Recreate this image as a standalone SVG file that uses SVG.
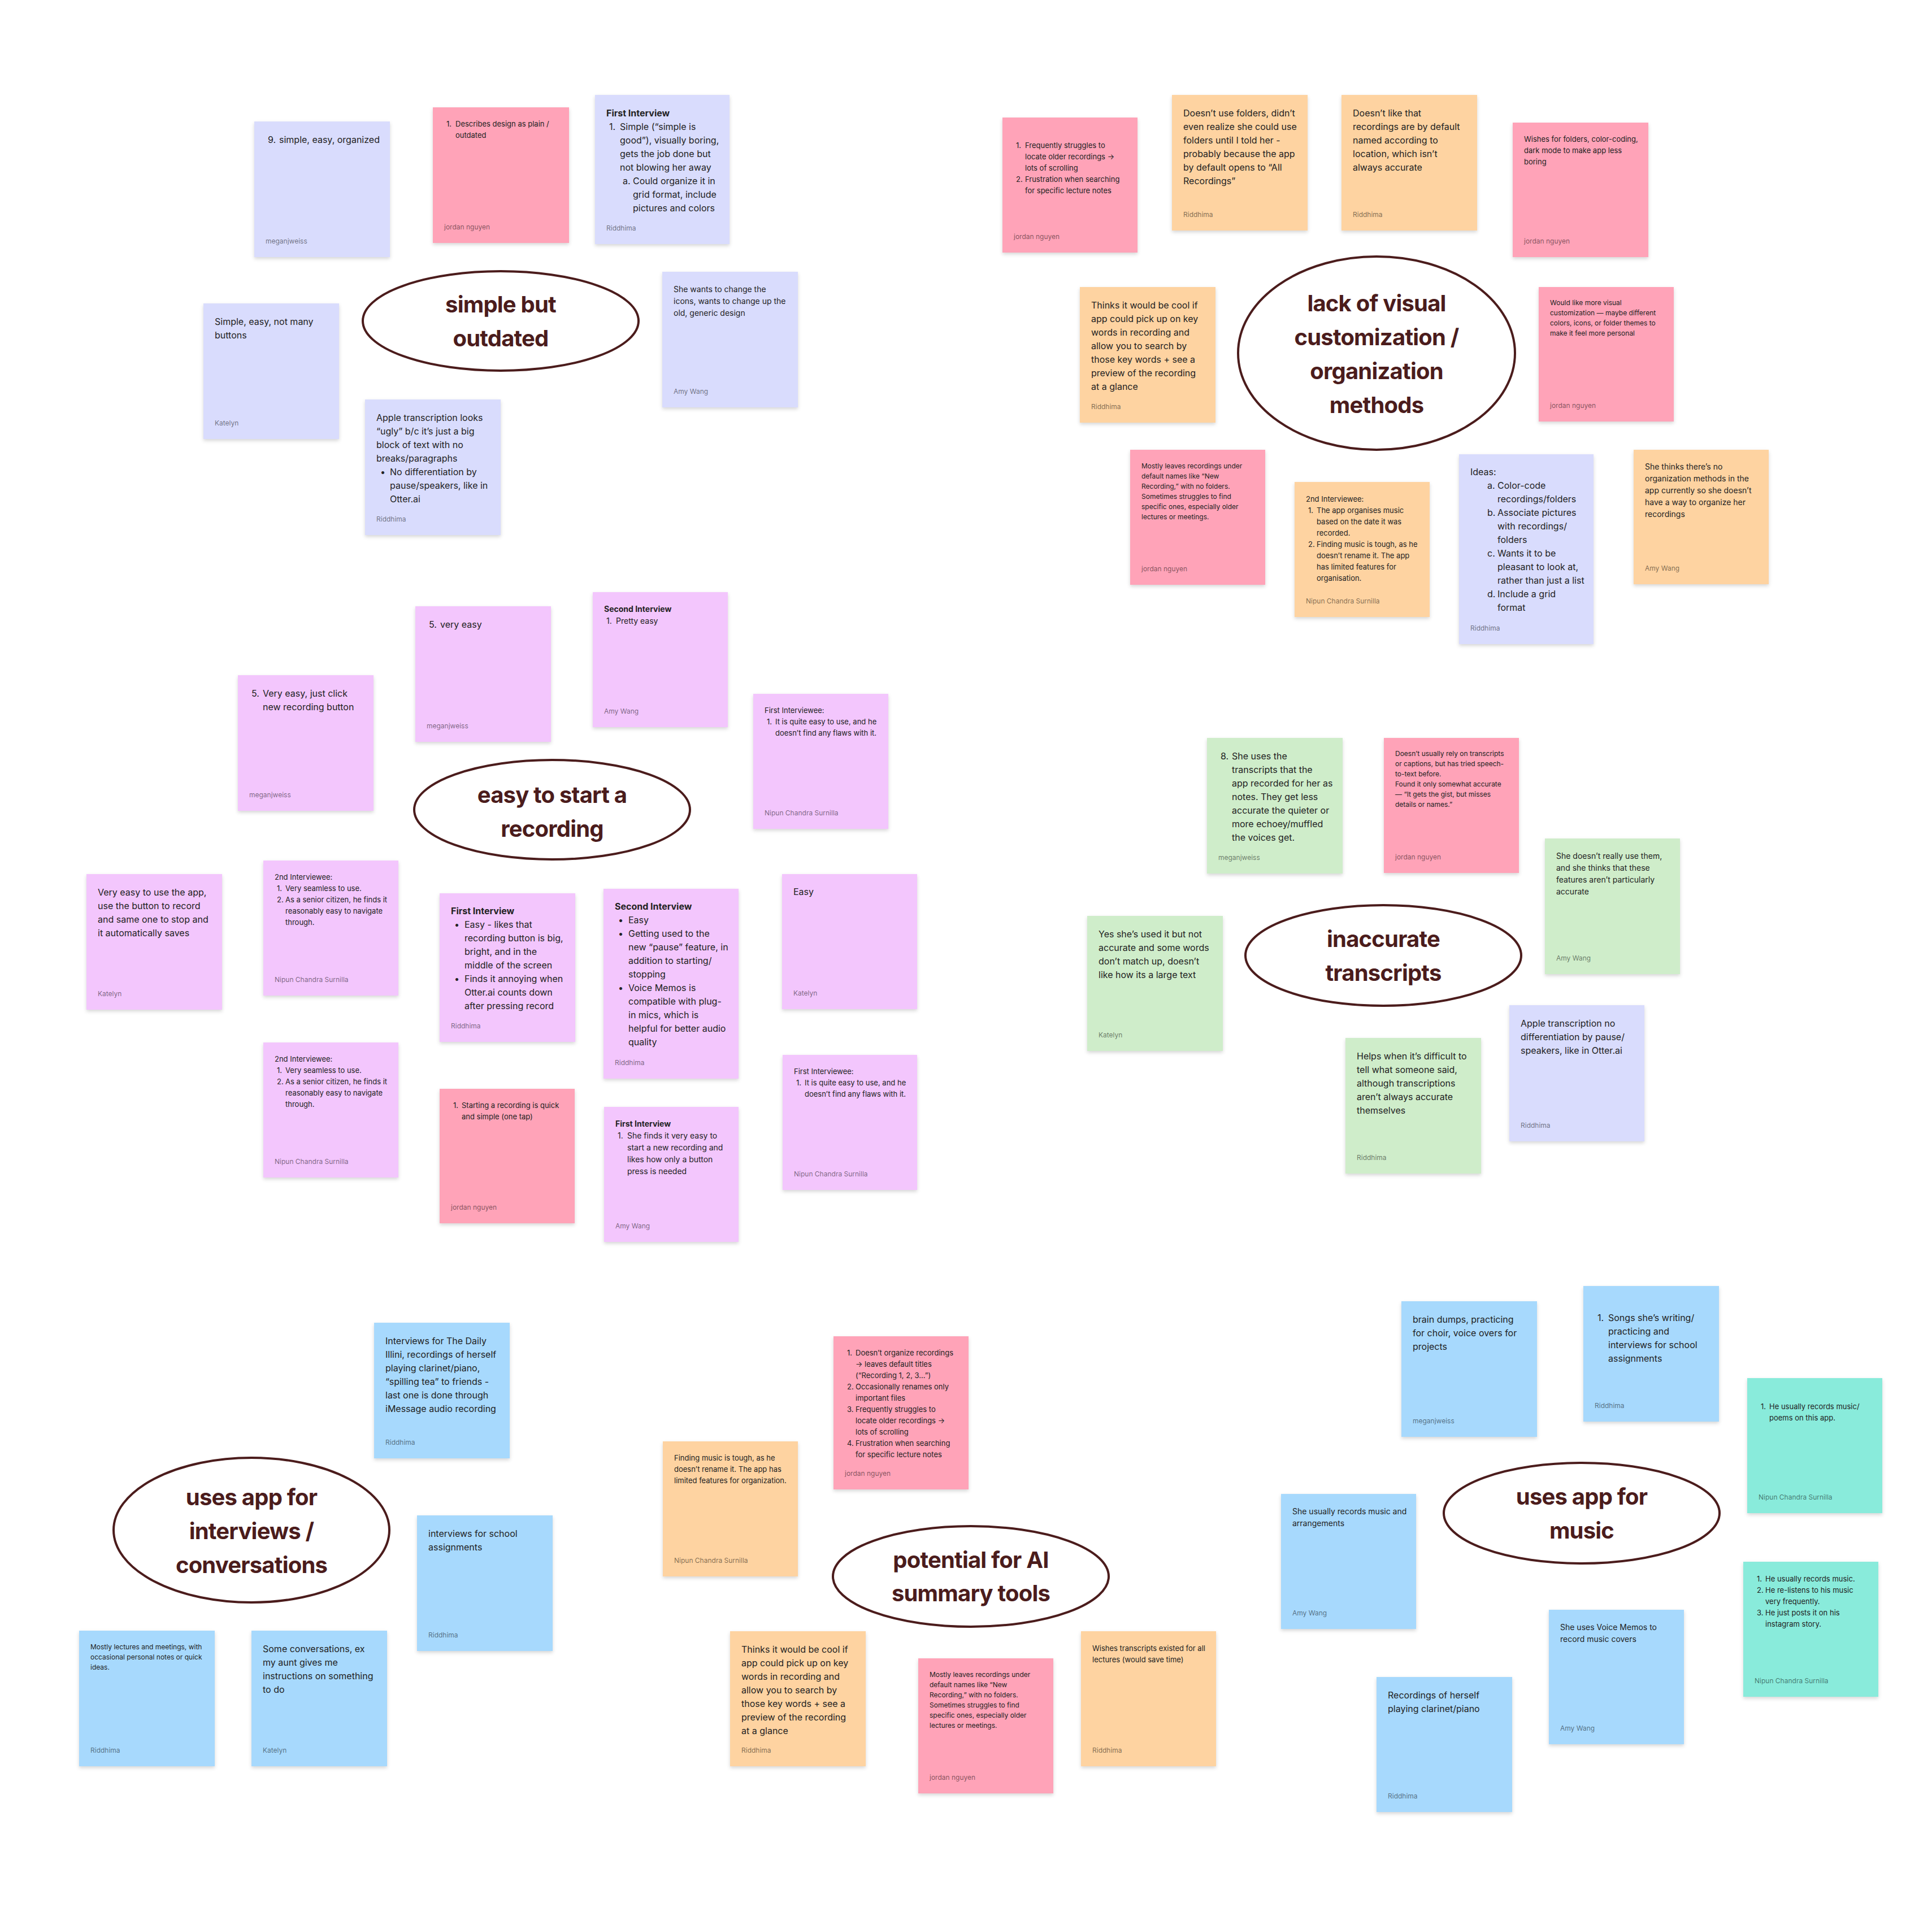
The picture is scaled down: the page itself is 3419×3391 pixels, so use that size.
<svg xmlns="http://www.w3.org/2000/svg" width="3419" height="3391" viewBox="0 0 3419 3391">
<defs>
<filter id="sh" x="-10%" y="-10%" width="120%" height="125%"><feDropShadow dx="0" dy="3" stdDeviation="3" flood-color="#000" flood-opacity="0.16"/></filter>
<style>
.lav{fill:#D9DCFD}.pink{fill:#FFA3B8}.org{fill:#FED3A1}.lil{fill:#F3C6FD}.grn{fill:#CFEDCA}.blu{fill:#A7D9FD}.tea{fill:#89EBDB}
.n{filter:url(#sh)}
text{font-family:Inter,'Liberation Sans',sans-serif}
.t{fill:#222}
.s16{font-size:16px}.s14{font-size:14px}.s13{font-size:13px}.s12{font-size:12px}
.b{font-weight:700}
.au{font-size:12px;fill:#000;fill-opacity:.5}
.bu{text-anchor:middle}
.el{fill:#fff;stroke:#4B1C1C;stroke-width:4}
.ttl{font-size:40px;font-weight:700;fill:#4B1C1C;text-anchor:middle;letter-spacing:-0.8px}
</style>
</defs>
<rect width="3419" height="3391" fill="#fff"/>
<g id="connectors"/>

<!-- simple but outdated cluster -->
<g id="A1"><rect class="n lav" x="450" y="215" width="240" height="240"/>
<text class="t s16"><tspan x="474" y="253">9.</tspan><tspan x="494" y="253">simple, easy, organized</tspan></text>
<text class="au" x="470" y="431">meganjweiss</text></g>

<g id="A2"><rect class="n pink" x="766" y="190" width="241" height="240"/>
<text class="t s13"><tspan x="790" y="224">1.</tspan><tspan x="806" y="224">Describes design as plain /</tspan><tspan x="806" y="244">outdated</tspan></text>
<text class="au" x="786" y="406">jordan nguyen</text></g>

<g id="A3"><rect class="n lav" x="1053" y="168" width="238" height="264"/>
<text class="t s16"><tspan class="b" x="1073" y="206">First Interview</tspan><tspan x="1078" y="230">1.</tspan><tspan x="1097" y="230">Simple (“simple is</tspan><tspan x="1097" y="254">good”), visually boring,</tspan><tspan x="1097" y="278">gets the job done but</tspan><tspan x="1097" y="302">not blowing her away</tspan><tspan x="1102" y="326">a.</tspan><tspan x="1120" y="326">Could organize it in</tspan><tspan x="1120" y="350">grid format, include</tspan><tspan x="1120" y="374">pictures and colors</tspan></text>
<text class="au" x="1073" y="408">Riddhima</text></g>

<g id="A4"><rect class="n lav" x="360" y="537" width="240" height="240"/>
<text class="t s16"><tspan x="380" y="575">Simple, easy, not many</tspan><tspan x="380" y="599">buttons</tspan></text>
<text class="au" x="380" y="753">Katelyn</text></g>

<g id="A5"><rect class="n lav" x="1172" y="481" width="240" height="240"/>
<text class="t s14"><tspan x="1192" y="517">She wants to change the</tspan><tspan x="1192" y="538">icons, wants to change up the</tspan><tspan x="1192" y="559">old, generic design</tspan></text>
<text class="au" x="1192" y="697">Amy Wang</text></g>

<g id="A6"><rect class="n lav" x="646" y="707" width="240" height="240"/>
<text class="t s16"><tspan x="666" y="745">Apple transcription looks</tspan><tspan x="666" y="769">“ugly” b/c it’s just a big</tspan><tspan x="666" y="793">block of text with no</tspan><tspan x="666" y="817">breaks/paragraphs</tspan><tspan x="673" y="841">•</tspan><tspan x="690" y="841">No differentiation by</tspan><tspan x="690" y="865">pause/speakers, like in</tspan><tspan x="690" y="889">Otter.ai</tspan></text>
<text class="au" x="666" y="923">Riddhima</text></g>

<g id="E1"><ellipse class="el" cx="886" cy="568" rx="244" ry="88"/>
<text class="ttl"><tspan x="886" y="553">simple but</tspan><tspan x="886" y="613">outdated</tspan></text></g>

<!-- lack of visual customization cluster -->
<g id="B1"><rect class="n pink" x="1774" y="208" width="239" height="239"/>
<text class="t s13"><tspan x="1798" y="262">1.</tspan><tspan x="1814" y="262">Frequently struggles to</tspan><tspan x="1814" y="282">locate older recordings →</tspan><tspan x="1814" y="302">lots of scrolling</tspan><tspan x="1798" y="322">2.</tspan><tspan x="1814" y="322">Frustration when searching</tspan><tspan x="1814" y="342">for specific lecture notes</tspan></text>
<text class="au" x="1794" y="423">jordan nguyen</text></g>

<g id="B2"><rect class="n org" x="2074" y="168" width="240" height="240"/>
<text class="t s16"><tspan x="2094" y="206">Doesn’t use folders, didn’t</tspan><tspan x="2094" y="230">even realize she could use</tspan><tspan x="2094" y="254">folders until I told her -</tspan><tspan x="2094" y="278">probably because the app</tspan><tspan x="2094" y="302">by default opens to “All</tspan><tspan x="2094" y="326">Recordings”</tspan></text>
<text class="au" x="2094" y="384">Riddhima</text></g>

<g id="B3"><rect class="n org" x="2374" y="168" width="240" height="240"/>
<text class="t s16"><tspan x="2394" y="206">Doesn’t like that</tspan><tspan x="2394" y="230">recordings are by default</tspan><tspan x="2394" y="254">named according to</tspan><tspan x="2394" y="278">location, which isn’t</tspan><tspan x="2394" y="302">always accurate</tspan></text>
<text class="au" x="2394" y="384">Riddhima</text></g>

<g id="B4"><rect class="n pink" x="2677" y="217" width="240" height="238"/>
<text class="t s13"><tspan x="2697" y="251">Wishes for folders, color-coding,</tspan><tspan x="2697" y="271">dark mode to make app less</tspan><tspan x="2697" y="291">boring</tspan></text>
<text class="au" x="2697" y="431">jordan nguyen</text></g>

<g id="B5"><rect class="n org" x="1911" y="508" width="240" height="240"/>
<text class="t s16"><tspan x="1931" y="546">Thinks it would be cool if</tspan><tspan x="1931" y="570">app could pick up on key</tspan><tspan x="1931" y="594">words in recording and</tspan><tspan x="1931" y="618">allow you to search by</tspan><tspan x="1931" y="642">those key words + see a</tspan><tspan x="1931" y="666">preview of the recording</tspan><tspan x="1931" y="690">at a glance</tspan></text>
<text class="au" x="1931" y="724">Riddhima</text></g>

<g id="E2"><ellipse class="el" cx="2436" cy="625" rx="245" ry="171"/>
<text class="ttl"><tspan x="2436" y="551">lack of visual</tspan><tspan x="2436" y="611">customization /</tspan><tspan x="2436" y="671">organization</tspan><tspan x="2436" y="731">methods</tspan></text></g>

<g id="B6"><rect class="n pink" x="2723" y="508" width="239" height="238"/>
<text class="t s12"><tspan x="2743" y="540">Would like more visual</tspan><tspan x="2743" y="558">customization — maybe different</tspan><tspan x="2743" y="576">colors, icons, or folder themes to</tspan><tspan x="2743" y="594">make it feel more personal</tspan></text>
<text class="au" x="2743" y="722">jordan nguyen</text></g>

<g id="B7"><rect class="n pink" x="2000" y="796" width="239" height="239"/>
<text class="t s12"><tspan x="2020" y="829">Mostly leaves recordings under</tspan><tspan x="2020" y="847">default names like “New</tspan><tspan x="2020" y="865">Recording,” with no folders.</tspan><tspan x="2020" y="883">Sometimes struggles to find</tspan><tspan x="2020" y="901">specific ones, especially older</tspan><tspan x="2020" y="919">lectures or meetings.</tspan></text>
<text class="au" x="2020" y="1011">jordan nguyen</text></g>

<g id="B8"><rect class="n org" x="2291" y="853" width="239" height="239"/>
<text class="t s13"><tspan x="2311" y="888">2nd Interviewee:</tspan><tspan x="2315" y="908">1.</tspan><tspan x="2330" y="908">The app organises music</tspan><tspan x="2330" y="928">based on the date it was</tspan><tspan x="2330" y="948">recorded.</tspan><tspan x="2315" y="968">2.</tspan><tspan x="2330" y="968">Finding music is tough, as he</tspan><tspan x="2330" y="988">doesn’t rename it. The app</tspan><tspan x="2330" y="1008">has limited features for</tspan><tspan x="2330" y="1028">organisation.</tspan></text>
<text class="au" x="2311" y="1068">Nipun Chandra Surnilla</text></g>

<g id="B9"><rect class="n lav" x="2582" y="804" width="238" height="336"/>
<text class="t s16"><tspan x="2602" y="841">Ideas:</tspan><tspan x="2632" y="865">a.</tspan><tspan x="2650" y="865">Color-code</tspan><tspan x="2650" y="889">recordings/folders</tspan><tspan x="2632" y="913">b.</tspan><tspan x="2650" y="913">Associate pictures</tspan><tspan x="2650" y="937">with recordings/</tspan><tspan x="2650" y="961">folders</tspan><tspan x="2632" y="985">c.</tspan><tspan x="2650" y="985">Wants it to be</tspan><tspan x="2650" y="1009">pleasant to look at,</tspan><tspan x="2650" y="1033">rather than just a list</tspan><tspan x="2632" y="1057">d.</tspan><tspan x="2650" y="1057">Include a grid</tspan><tspan x="2650" y="1081">format</tspan></text>
<text class="au" x="2602" y="1116">Riddhima</text></g>

<g id="B10"><rect class="n org" x="2891" y="796" width="239" height="238"/>
<text class="t s14"><tspan x="2911" y="831">She thinks there’s no</tspan><tspan x="2911" y="852">organization methods in the</tspan><tspan x="2911" y="873">app currently so she doesn’t</tspan><tspan x="2911" y="894">have a way to organize her</tspan><tspan x="2911" y="915">recordings</tspan></text>
<text class="au" x="2911" y="1010">Amy Wang</text></g>

<!-- easy to start a recording cluster -->
<g id="C1"><rect class="n lil" x="735" y="1073" width="240" height="240"/>
<text class="t s16"><tspan x="759" y="1111">5.</tspan><tspan x="779" y="1111">very easy</tspan></text>
<text class="au" x="755" y="1289">meganjweiss</text></g>

<g id="C2"><rect class="n lil" x="1049" y="1048" width="239" height="239"/>
<text class="t s14"><tspan class="b" x="1069" y="1083">Second Interview</tspan><tspan x="1073" y="1104">1.</tspan><tspan x="1090" y="1104">Pretty easy</tspan></text>
<text class="au" x="1069" y="1263">Amy Wang</text></g>

<g id="C3"><rect class="n lil" x="421" y="1195" width="240" height="240"/>
<text class="t s16"><tspan x="445" y="1233">5.</tspan><tspan x="465" y="1233">Very easy, just click</tspan><tspan x="465" y="1257">new recording button</tspan></text>
<text class="au" x="441" y="1411">meganjweiss</text></g>

<g id="C4"><rect class="n lil" x="1333" y="1228" width="239" height="239"/>
<text class="t s13"><tspan x="1353" y="1262">First Interviewee:</tspan><tspan x="1357" y="1282">1.</tspan><tspan x="1372" y="1282">It is quite easy to use, and he</tspan><tspan x="1372" y="1302">doesn’t find any flaws with it.</tspan></text>
<text class="au" x="1353" y="1443">Nipun Chandra Surnilla</text></g>

<g id="E3"><ellipse class="el" cx="977" cy="1433" rx="244" ry="88"/>
<text class="ttl"><tspan x="977" y="1421">easy to start a</tspan><tspan x="977" y="1481">recording</tspan></text></g>

<g id="C5"><rect class="n lil" x="153" y="1547" width="240" height="240"/>
<text class="t s16"><tspan x="173" y="1585">Very easy to use the app,</tspan><tspan x="173" y="1609">use the button to record</tspan><tspan x="173" y="1633">and same one to stop and</tspan><tspan x="173" y="1657">it automatically saves</tspan></text>
<text class="au" x="173" y="1763">Katelyn</text></g>

<g id="C6"><rect class="n lil" x="466" y="1523" width="239" height="239"/>
<text class="t s13"><tspan x="486" y="1557">2nd Interviewee:</tspan><tspan x="490" y="1577">1.</tspan><tspan x="505" y="1577">Very seamless to use.</tspan><tspan x="490" y="1597">2.</tspan><tspan x="505" y="1597">As a senior citizen, he finds it</tspan><tspan x="505" y="1617">reasonably easy to navigate</tspan><tspan x="505" y="1637">through.</tspan></text>
<text class="au" x="486" y="1738">Nipun Chandra Surnilla</text></g>

<g id="C7"><rect class="n lil" x="778" y="1581" width="240" height="263"/>
<text class="t s16"><tspan class="b" x="798" y="1618">First Interview</tspan><tspan x="804" y="1642">•</tspan><tspan x="822" y="1642">Easy - likes that</tspan><tspan x="822" y="1666">recording button is big,</tspan><tspan x="822" y="1690">bright, and in the</tspan><tspan x="822" y="1714">middle of the screen</tspan><tspan x="804" y="1738">•</tspan><tspan x="822" y="1738">Finds it annoying when</tspan><tspan x="822" y="1762">Otter.ai counts down</tspan><tspan x="822" y="1786">after pressing record</tspan></text>
<text class="au" x="798" y="1820">Riddhima</text></g>

<g id="C8"><rect class="n lil" x="1068" y="1573" width="239" height="336"/>
<text class="t s16"><tspan class="b" x="1088" y="1610">Second Interview</tspan><tspan x="1094" y="1634">•</tspan><tspan x="1112" y="1634">Easy</tspan><tspan x="1094" y="1658">•</tspan><tspan x="1112" y="1658">Getting used to the</tspan><tspan x="1112" y="1682">new “pause” feature, in</tspan><tspan x="1112" y="1706">addition to starting/</tspan><tspan x="1112" y="1730">stopping</tspan><tspan x="1094" y="1754">•</tspan><tspan x="1112" y="1754">Voice Memos is</tspan><tspan x="1112" y="1778">compatible with plug-</tspan><tspan x="1112" y="1802">in mics, which is</tspan><tspan x="1112" y="1826">helpful for better audio</tspan><tspan x="1112" y="1850">quality</tspan></text>
<text class="au" x="1088" y="1885">Riddhima</text></g>

<g id="C9"><rect class="n lil" x="1384" y="1547" width="239" height="239"/>
<text class="t s16" x="1404" y="1584">Easy</text>
<text class="au" x="1404" y="1762">Katelyn</text></g>

<g id="C10"><rect class="n lil" x="466" y="1845" width="239" height="239"/>
<text class="t s13"><tspan x="486" y="1879">2nd Interviewee:</tspan><tspan x="490" y="1899">1.</tspan><tspan x="505" y="1899">Very seamless to use.</tspan><tspan x="490" y="1919">2.</tspan><tspan x="505" y="1919">As a senior citizen, he finds it</tspan><tspan x="505" y="1939">reasonably easy to navigate</tspan><tspan x="505" y="1959">through.</tspan></text>
<text class="au" x="486" y="2060">Nipun Chandra Surnilla</text></g>

<g id="C11"><rect class="n pink" x="778" y="1927" width="239" height="238"/>
<text class="t s13"><tspan x="802" y="1961">1.</tspan><tspan x="817" y="1961">Starting a recording is quick</tspan><tspan x="817" y="1981">and simple (one tap)</tspan></text>
<text class="au" x="798" y="2141">jordan nguyen</text></g>

<g id="C12"><rect class="n lil" x="1069" y="1959" width="238" height="239"/>
<text class="t s14"><tspan class="b" x="1089" y="1994">First Interview</tspan><tspan x="1093" y="2015">1.</tspan><tspan x="1110" y="2015">She finds it very easy to</tspan><tspan x="1110" y="2036">start a new recording and</tspan><tspan x="1110" y="2057">likes how only a button</tspan><tspan x="1110" y="2078">press is needed</tspan></text>
<text class="au" x="1089" y="2174">Amy Wang</text></g>

<g id="C13"><rect class="n lil" x="1385" y="1867" width="238" height="239"/>
<text class="t s13"><tspan x="1405" y="1901">First Interviewee:</tspan><tspan x="1409" y="1921">1.</tspan><tspan x="1424" y="1921">It is quite easy to use, and he</tspan><tspan x="1424" y="1941">doesn’t find any flaws with it.</tspan></text>
<text class="au" x="1405" y="2082">Nipun Chandra Surnilla</text></g>

<!-- inaccurate transcripts cluster -->
<g id="D1"><rect class="n grn" x="2136" y="1306" width="240" height="240"/>
<text class="t s16"><tspan x="2160" y="1344">8.</tspan><tspan x="2180" y="1344">She uses the</tspan><tspan x="2180" y="1368">transcripts that the</tspan><tspan x="2180" y="1392">app recorded for her as</tspan><tspan x="2180" y="1416">notes. They get less</tspan><tspan x="2180" y="1440">accurate the quieter or</tspan><tspan x="2180" y="1464">more echoey/muffled</tspan><tspan x="2180" y="1488">the voices get.</tspan></text>
<text class="au" x="2156" y="1522">meganjweiss</text></g>

<g id="D2"><rect class="n pink" x="2449" y="1306" width="239" height="239"/>
<text class="t s12"><tspan x="2469" y="1338">Doesn’t usually rely on transcripts</tspan><tspan x="2469" y="1356">or captions, but has tried speech-</tspan><tspan x="2469" y="1374">to-text before.</tspan><tspan x="2469" y="1392">Found it only somewhat accurate</tspan><tspan x="2469" y="1410">— “It gets the gist, but misses</tspan><tspan x="2469" y="1428">details or names.”</tspan></text>
<text class="au" x="2469" y="1521">jordan nguyen</text></g>

<g id="D3"><rect class="n grn" x="2734" y="1484" width="239" height="240"/>
<text class="t s14"><tspan x="2754" y="1520">She doesn’t really use them,</tspan><tspan x="2754" y="1541">and she thinks that these</tspan><tspan x="2754" y="1562">features aren’t particularly</tspan><tspan x="2754" y="1583">accurate</tspan></text>
<text class="au" x="2754" y="1700">Amy Wang</text></g>

<g id="D4"><rect class="n grn" x="1924" y="1621" width="240" height="239"/>
<text class="t s16"><tspan x="1944" y="1659">Yes she’s used it but not</tspan><tspan x="1944" y="1683">accurate and some words</tspan><tspan x="1944" y="1707">don’t match up, doesn’t</tspan><tspan x="1944" y="1731">like how its a large text</tspan></text>
<text class="au" x="1944" y="1836">Katelyn</text></g>

<g id="E4"><ellipse class="el" cx="2448" cy="1691" rx="244" ry="89"/>
<text class="ttl"><tspan x="2448" y="1676">inaccurate</tspan><tspan x="2448" y="1736">transcripts</tspan></text></g>

<g id="D5"><rect class="n grn" x="2381" y="1837" width="240" height="240"/>
<text class="t s16"><tspan x="2401" y="1875">Helps when it’s difficult to</tspan><tspan x="2401" y="1899">tell what someone said,</tspan><tspan x="2401" y="1923">although transcriptions</tspan><tspan x="2401" y="1947">aren’t always accurate</tspan><tspan x="2401" y="1971">themselves</tspan></text>
<text class="au" x="2401" y="2053">Riddhima</text></g>

<g id="D6"><rect class="n lav" x="2671" y="1779" width="239" height="241"/>
<text class="t s16"><tspan x="2691" y="1817">Apple transcription no</tspan><tspan x="2691" y="1841">differentiation by pause/</tspan><tspan x="2691" y="1865">speakers, like in Otter.ai</tspan></text>
<text class="au" x="2691" y="1996">Riddhima</text></g>

<!-- uses app for interviews cluster -->
<g id="F1"><rect class="n blu" x="662" y="2341" width="240" height="240"/>
<text class="t s16"><tspan x="682" y="2379">Interviews for The Daily</tspan><tspan x="682" y="2403">Illini, recordings of herself</tspan><tspan x="682" y="2427">playing clarinet/piano,</tspan><tspan x="682" y="2451">“spilling tea” to friends -</tspan><tspan x="682" y="2475">last one is done through</tspan><tspan x="682" y="2499">iMessage audio recording</tspan></text>
<text class="au" x="682" y="2557">Riddhima</text></g>

<g id="E5"><ellipse class="el" cx="445" cy="2708" rx="244" ry="128"/>
<text class="ttl"><tspan x="445" y="2664">uses app for</tspan><tspan x="445" y="2724">interviews /</tspan><tspan x="445" y="2784">conversations</tspan></text></g>

<g id="F2"><rect class="n blu" x="738" y="2682" width="240" height="240"/>
<text class="t s16"><tspan x="758" y="2720">interviews for school</tspan><tspan x="758" y="2744">assignments</tspan></text>
<text class="au" x="758" y="2898">Riddhima</text></g>

<g id="F3"><rect class="n blu" x="140" y="2886" width="240" height="240"/>
<text class="t s12"><tspan x="160" y="2919">Mostly lectures and meetings, with</tspan><tspan x="160" y="2937">occasional personal notes or quick</tspan><tspan x="160" y="2955">ideas.</tspan></text>
<text class="au" x="160" y="3102">Riddhima</text></g>

<g id="F4"><rect class="n blu" x="445" y="2886" width="240" height="240"/>
<text class="t s16"><tspan x="465" y="2924">Some conversations, ex</tspan><tspan x="465" y="2948">my aunt gives me</tspan><tspan x="465" y="2972">instructions on something</tspan><tspan x="465" y="2996">to do</tspan></text>
<text class="au" x="465" y="3102">Katelyn</text></g>

<!-- potential for AI summary tools cluster -->
<g id="G1"><rect class="n pink" x="1475" y="2365" width="239" height="271"/>
<text class="t s13"><tspan x="1499" y="2399">1.</tspan><tspan x="1514" y="2399">Doesn’t organize recordings</tspan><tspan x="1514" y="2419">→ leaves default titles</tspan><tspan x="1514" y="2439">(“Recording 1, 2, 3...”)</tspan><tspan x="1499" y="2459">2.</tspan><tspan x="1514" y="2459">Occasionally renames only</tspan><tspan x="1514" y="2479">important files</tspan><tspan x="1499" y="2499">3.</tspan><tspan x="1514" y="2499">Frequently struggles to</tspan><tspan x="1514" y="2519">locate older recordings →</tspan><tspan x="1514" y="2539">lots of scrolling</tspan><tspan x="1499" y="2559">4.</tspan><tspan x="1514" y="2559">Frustration when searching</tspan><tspan x="1514" y="2579">for specific lecture notes</tspan></text>
<text class="au" x="1495" y="2612">jordan nguyen</text></g>

<g id="G2"><rect class="n org" x="1173" y="2551" width="239" height="239"/>
<text class="t s13"><tspan x="1193" y="2585">Finding music is tough, as he</tspan><tspan x="1193" y="2605">doesn’t rename it. The app has</tspan><tspan x="1193" y="2625">limited features for organization.</tspan></text>
<text class="au" x="1193" y="2766">Nipun Chandra Surnilla</text></g>

<g id="E6"><ellipse class="el" cx="1718" cy="2790" rx="244" ry="89"/>
<text class="ttl"><tspan x="1718" y="2775">potential for AI</tspan><tspan x="1718" y="2834">summary tools</tspan></text></g>

<g id="G3"><rect class="n org" x="1292" y="2887" width="240" height="239"/>
<text class="t s16"><tspan x="1312" y="2925">Thinks it would be cool if</tspan><tspan x="1312" y="2949">app could pick up on key</tspan><tspan x="1312" y="2973">words in recording and</tspan><tspan x="1312" y="2997">allow you to search by</tspan><tspan x="1312" y="3021">those key words + see a</tspan><tspan x="1312" y="3045">preview of the recording</tspan><tspan x="1312" y="3069">at a glance</tspan></text>
<text class="au" x="1312" y="3102">Riddhima</text></g>

<g id="G4"><rect class="n pink" x="1625" y="2935" width="239" height="239"/>
<text class="t s12"><tspan x="1645" y="2968">Mostly leaves recordings under</tspan><tspan x="1645" y="2986">default names like “New</tspan><tspan x="1645" y="3004">Recording,” with no folders.</tspan><tspan x="1645" y="3022">Sometimes struggles to find</tspan><tspan x="1645" y="3040">specific ones, especially older</tspan><tspan x="1645" y="3058">lectures or meetings.</tspan></text>
<text class="au" x="1645" y="3150">jordan nguyen</text></g>

<g id="G5"><rect class="n org" x="1913" y="2887" width="239" height="239"/>
<text class="t s13"><tspan x="1933" y="2922">Wishes transcripts existed for all</tspan><tspan x="1933" y="2942">lectures (would save time)</tspan></text>
<text class="au" x="1933" y="3102">Riddhima</text></g>

<!-- uses app for music cluster -->
<g id="H1"><rect class="n blu" x="2480" y="2303" width="240" height="240"/>
<text class="t s16"><tspan x="2500" y="2341">brain dumps, practicing</tspan><tspan x="2500" y="2365">for choir, voice overs for</tspan><tspan x="2500" y="2389">projects</tspan></text>
<text class="au" x="2500" y="2519">meganjweiss</text></g>

<g id="H2"><rect class="n blu" x="2802" y="2276" width="240" height="240"/>
<text class="t s16"><tspan x="2827" y="2338">1.</tspan><tspan x="2846" y="2338">Songs she’s writing/</tspan><tspan x="2846" y="2362">practicing and</tspan><tspan x="2846" y="2386">interviews for school</tspan><tspan x="2846" y="2410">assignments</tspan></text>
<text class="au" x="2822" y="2492">Riddhima</text></g>

<g id="H3"><rect class="n tea" x="3092" y="2439" width="239" height="239"/>
<text class="t s13"><tspan x="3116" y="2494">1.</tspan><tspan x="3131" y="2494">He usually records music/</tspan><tspan x="3131" y="2514">poems on this app.</tspan></text>
<text class="au" x="3112" y="2654">Nipun Chandra Surnilla</text></g>

<g id="E7"><ellipse class="el" cx="2799" cy="2678" rx="244" ry="89"/>
<text class="ttl"><tspan x="2799" y="2663">uses app for</tspan><tspan x="2799" y="2723">music</tspan></text></g>

<g id="H4"><rect class="n blu" x="2267" y="2644" width="239" height="239"/>
<text class="t s14"><tspan x="2287" y="2680">She usually records music and</tspan><tspan x="2287" y="2701">arrangements</tspan></text>
<text class="au" x="2287" y="2859">Amy Wang</text></g>

<g id="H5"><rect class="n tea" x="3085" y="2764" width="239" height="239"/>
<text class="t s13"><tspan x="3109" y="2799">1.</tspan><tspan x="3124" y="2799">He usually records music.</tspan><tspan x="3109" y="2819">2.</tspan><tspan x="3124" y="2819">He re-listens to his music</tspan><tspan x="3124" y="2839">very frequently.</tspan><tspan x="3109" y="2859">3.</tspan><tspan x="3124" y="2859">He just posts it on his</tspan><tspan x="3124" y="2879">instagram story.</tspan></text>
<text class="au" x="3105" y="2979">Nipun Chandra Surnilla</text></g>

<g id="H6"><rect class="n blu" x="2741" y="2849" width="239" height="238"/>
<text class="t s14"><tspan x="2761" y="2885">She uses Voice Memos to</tspan><tspan x="2761" y="2906">record music covers</tspan></text>
<text class="au" x="2761" y="3063">Amy Wang</text></g>

<g id="H7"><rect class="n blu" x="2436" y="2968" width="240" height="239"/>
<text class="t s16"><tspan x="2456" y="3006">Recordings of herself</tspan><tspan x="2456" y="3030">playing clarinet/piano</tspan></text>
<text class="au" x="2456" y="3183">Riddhima</text></g>
</svg>
